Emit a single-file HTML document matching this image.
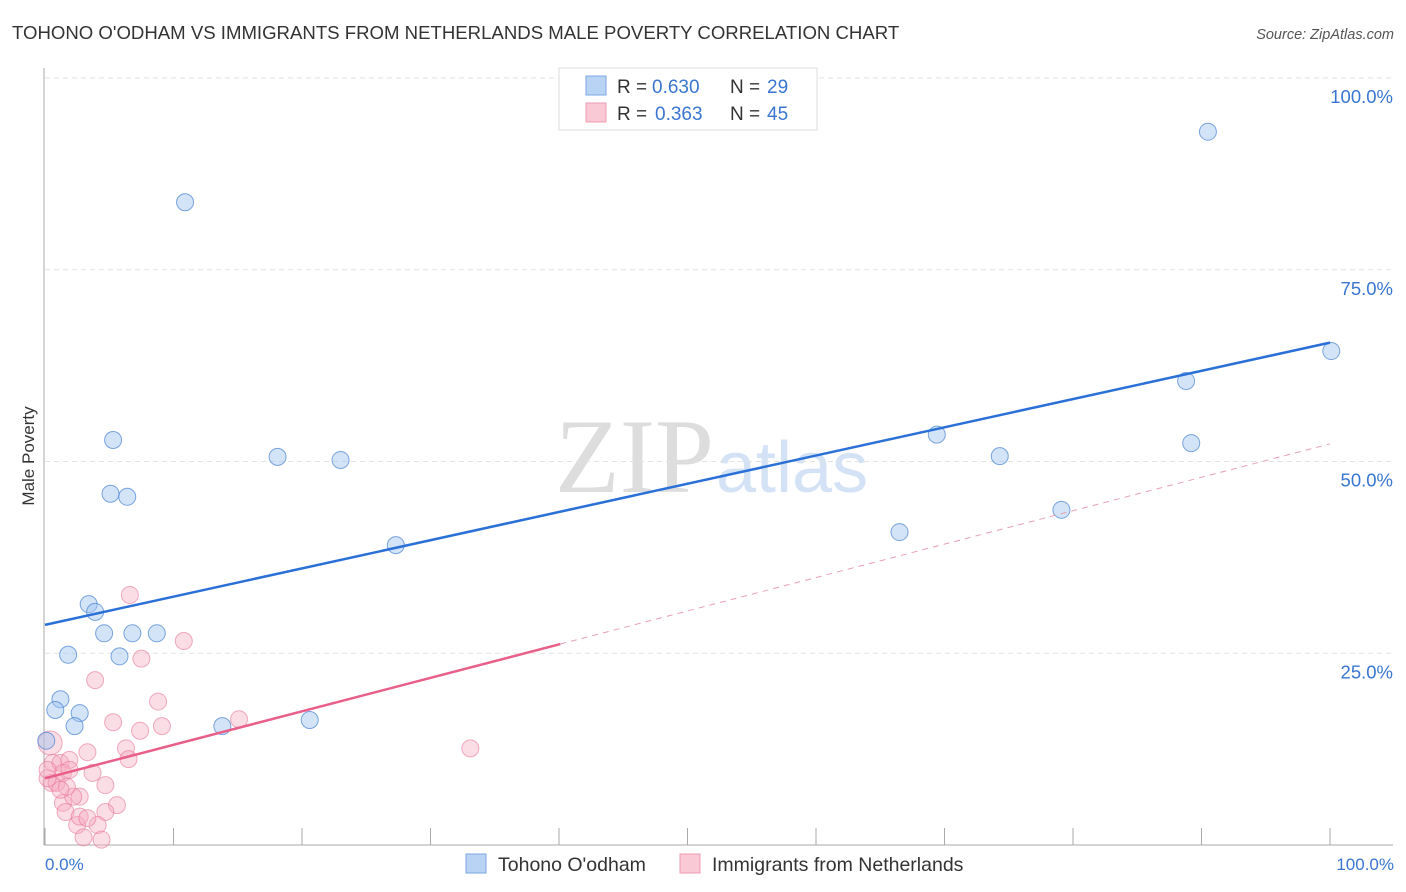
<!DOCTYPE html>
<html><head><meta charset="utf-8"><style>
body{margin:0;background:#fff;font-family:"Liberation Sans",sans-serif}
svg{display:block}
</style></head><body>
<svg width="1406" height="892">
<text x="12" y="39" font-size="18.6" fill="#333">TOHONO O'ODHAM VS IMMIGRANTS FROM NETHERLANDS MALE POVERTY CORRELATION CHART</text>
<text x="1394" y="39" font-size="14.5" fill="#555" font-style="italic" text-anchor="end">Source: ZipAtlas.com</text>
<text x="714" y="492" font-size="106" fill="#ddd" font-family="Liberation Serif" text-anchor="end">ZIP</text>
<text x="716" y="492" font-size="72" fill="#d3e3f5">atlas</text>
<g id="grid"></g>
<g id="axes"></g>
<g id="pts"></g>
<g id="lines"></g>
<text transform="translate(34,456) rotate(-90)" font-size="17" fill="#333" text-anchor="middle">Male Poverty</text>
<text x="45" y="870" font-size="17" fill="#3a76d0">0.0%</text>
<text x="1394" y="870" font-size="17" fill="#3a76d0" text-anchor="end">100.0%</text>
<g>
<rect x="559" y="68" width="258" height="62" fill="#fff" stroke="#ddd"/>
<rect x="586" y="76" width="20" height="19" fill="#b9d3f4" stroke="#7aa7e3"/>
<text x="617" y="93" font-size="19" fill="#333">R =</text>
<text x="652" y="93" font-size="19" fill="#3a76d0">0.630</text>
<text x="730" y="93" font-size="19" fill="#333">N =</text>
<text x="767" y="93" font-size="19" fill="#3a76d0">29</text>
<rect x="586" y="103" width="20" height="19" fill="#f9c9d6" stroke="#ee9ab3"/>
<text x="617" y="120" font-size="19" fill="#333">R =</text>
<text x="655" y="120" font-size="19" fill="#3a76d0">0.363</text>
<text x="730" y="120" font-size="19" fill="#333">N =</text>
<text x="767" y="120" font-size="19" fill="#3a76d0">45</text>
</g>
<g>
<rect x="466" y="854" width="20" height="19" fill="#b9d3f4" stroke="#7aa7e3"/>
<text x="498" y="871" font-size="19.5" fill="#333">Tohono O'odham</text>
<rect x="680" y="854" width="20" height="19" fill="#f9c9d6" stroke="#ee9ab3"/>
<text x="712" y="871" font-size="19.5" fill="#333">Immigrants from Netherlands</text>
</g>
</svg>
<script>
const blueX=[10.9,90.5,100.1,88.8,89.2,69.4,74.3,79.1,66.5,5.3,5.1,6.4,18.1,23.0,27.3,3.4,3.9,4.6,6.8,8.7,1.8,5.8,1.2,0.8,2.7,2.3,13.8,20.6,0.1];
const blueY=[83.8,93.0,64.4,60.5,52.4,53.5,50.7,43.7,40.8,52.8,45.8,45.4,50.6,50.2,39.1,31.4,30.4,27.6,27.6,27.6,24.8,24.6,19.0,17.6,17.2,15.5,15.5,16.3,13.6];
const pinkX=[6.6,10.8,7.5,3.9,8.8,5.3,7.4,9.1,15.1,33.1,3.3,6.3,6.5,3.7,4.7,5.6,4.7,4.1,2.5,3.0,4.4,1.4,1.6,2.7,2.2,0.4,0.6,1.2,1.9,0.5,0.9,1.4,1.9,0.2,1.7,2.7,3.3,0.2,1.2];
const pinkY=[32.6,26.6,24.3,21.5,18.7,16.0,14.9,15.5,16.4,12.6,12.1,12.6,11.2,9.4,7.8,5.2,4.3,2.6,2.6,1.0,0.7,5.5,4.3,6.3,6.3,13.3,10.7,10.7,11.1,8.1,8.1,9.4,9.8,8.7,7.6,3.7,3.5,9.8,7.2];
const blueLine=[28.7,65.5];
const pinkLine=[8.7,26.2,40.1,52.3];
const yTicks=[25,50,75,100];
const xTicks=[0,10,20,30,40,50,60,70,80,90,100];
const NS="http://www.w3.org/2000/svg";
const sx=v=>45+v*12.85, sy=v=>845-v*7.67;
function mk(t,a,p){const e=document.createElementNS(NS,t);for(const k in a)e.setAttribute(k,a[k]);document.getElementById(p).appendChild(e);return e;}
yTicks.forEach(t=>{
 const l=mk('line',{x1:45,x2:1393,y1:sy(t),y2:sy(t),stroke:'#e2e2e2','stroke-dasharray':'5,4'},'grid');
 
 
 const tx=mk('text',{x:1393,y:sy(t)+25,'font-size':18.5,fill:'#3a76d0','text-anchor':'end'},'grid');
 tx.textContent=t.toFixed(1)+'%';
 
 
});
mk('line',{x1:44,x2:44,y1:68,y2:845,stroke:'#aaa'},'axes');
mk('line',{x1:44,x2:1393,y1:845,y2:845,stroke:'#aaa'},'axes');
xTicks.forEach(t=>{
 const l=mk('line',{x1:sx(t),x2:sx(t),y1:828,y2:845,stroke:'#aaa'},'axes');
 
 
});
pinkX.forEach((x,i)=>{
 const c=mk('circle',{cx:sx(x),cy:sy(pinkY[i]),r:i==25?12:8.5,fill:'rgba(246,170,192,0.4)',stroke:'rgba(232,120,155,0.6)'},'pts');
 
 
});
blueX.forEach((x,i)=>{
 const c=mk('circle',{cx:sx(x),cy:sy(blueY[i]),r:8.5,fill:'rgba(160,196,240,0.45)',stroke:'rgba(70,130,210,0.7)'},'pts');
 
 
});
let b=mk('line',{x1:sx(0),y1:sy(blueLine[0]),x2:sx(100),y2:sy(blueLine[1]),stroke:'#2a70d6','stroke-width':2.5},'lines');


let p=mk('line',{x1:sx(0),y1:sy(pinkLine[0]),x2:sx(pinkLine[2]),y2:sy(pinkLine[1]),stroke:'#e8608a','stroke-width':2.5},'lines');


let pd=mk('line',{x1:sx(pinkLine[2]),y1:sy(pinkLine[1]),x2:sx(100),y2:sy(pinkLine[3]),stroke:'#e8a0b5','stroke-width':1,'stroke-dasharray':'6,5'},'lines');


</script>
</body></html>
